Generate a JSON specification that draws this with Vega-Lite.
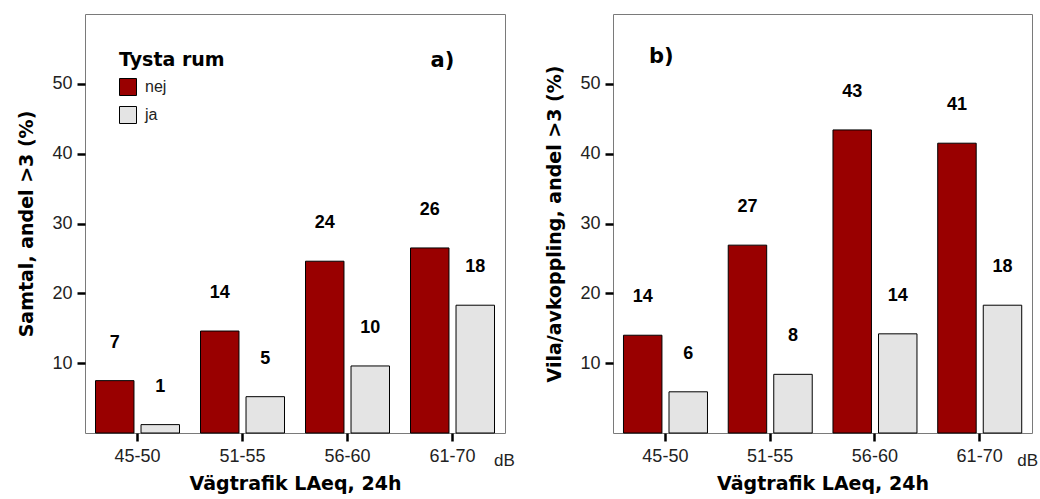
{
  "$schema": "https://vega.github.io/schema/vega-lite/v6.json",
  "background": "white",
  "padding": {"left": 17, "top": 13, "right": 0, "bottom": 0},
  "spacing": 29,
  "config": {
    "view": {"stroke": "#7a7a7a", "strokeWidth": 1},
    "font": "Liberation Sans",
    "axis": {
      "labelFont": "Liberation Sans", "labelFontSize": 18, "labelColor": "#222",
      "tickColor": "black", "tickWidth": 2.5, "tickSize": 8, "domain": false, "grid": false,
      "titleFont": "DejaVu Sans", "titleFontSize": 19, "titleFontWeight": "bold", "titleColor": "black"
    }
  },
  "datasets": {
    "bars": [
      {"panel": "a", "cat": "45-50", "room": "nej", "value": 7.5, "label": "7"},
      {"panel": "a", "cat": "45-50", "room": "ja", "value": 1.2, "label": "1"},
      {"panel": "a", "cat": "51-55", "room": "nej", "value": 14.6, "label": "14"},
      {"panel": "a", "cat": "51-55", "room": "ja", "value": 5.2, "label": "5"},
      {"panel": "a", "cat": "56-60", "room": "nej", "value": 24.6, "label": "24"},
      {"panel": "a", "cat": "56-60", "room": "ja", "value": 9.6, "label": "10"},
      {"panel": "a", "cat": "61-70", "room": "nej", "value": 26.5, "label": "26"},
      {"panel": "a", "cat": "61-70", "room": "ja", "value": 18.3, "label": "18"},
      {"panel": "b", "cat": "45-50", "room": "nej", "value": 14.0, "label": "14"},
      {"panel": "b", "cat": "45-50", "room": "ja", "value": 5.9, "label": "6"},
      {"panel": "b", "cat": "51-55", "room": "nej", "value": 26.9, "label": "27"},
      {"panel": "b", "cat": "51-55", "room": "ja", "value": 8.4, "label": "8"},
      {"panel": "b", "cat": "56-60", "room": "nej", "value": 43.4, "label": "43"},
      {"panel": "b", "cat": "56-60", "room": "ja", "value": 14.2, "label": "14"},
      {"panel": "b", "cat": "61-70", "room": "nej", "value": 41.5, "label": "41"},
      {"panel": "b", "cat": "61-70", "room": "ja", "value": 18.3, "label": "18"}
    ],
    "notes": [
      {"panel": "a", "kind": "tag", "cat": "61-70", "value": 53.3, "text": "a)"},
      {"panel": "a", "kind": "unit", "cat": "61-70", "value": 0, "text": "dB"},
      {"panel": "b", "kind": "tag", "cat": "45-50", "value": 53.9, "text": "b)"},
      {"panel": "b", "kind": "unit", "cat": "61-70", "value": 0, "text": "dB"}
    ]
  },
  "resolve": {"legend": {"color": "independent"}},
  "hconcat": [
    {
      "width": 420,
      "height": 419,
      "encoding": {
        "x": {"field": "cat", "type": "nominal", "title": "Vägtrafik LAeq, 24h",
          "scale": {"domain": ["45-50", "51-55", "56-60", "61-70"], "paddingInner": 0.2, "paddingOuter": 0.1},
          "axis": {"labelAngle": 0, "labelPadding": 6, "titlePadding": 9}},
        "y": {"field": "value", "type": "quantitative", "title": "Samtal, andel >3 (%)",
          "scale": {"domain": [0, 60], "nice": false},
          "axis": {"values": [10, 20, 30, 40, 50], "labelPadding": 5, "titlePadding": 15}}
      },
      "layer": [
        {
          "data": {"name": "bars"},
          "transform": [{"filter": "datum.panel == 'a'"}],
          "mark": {"type": "bar", "stroke": "black", "strokeWidth": 1},
          "encoding": {
            "xOffset": {"field": "room", "type": "nominal", "scale": {"domain": ["nej", "ja"], "paddingInner": 0.155}},
            "color": {"field": "room", "type": "nominal",
              "scale": {"domain": ["nej", "ja"], "range": ["#990000", "#e4e4e4"]},
              "legend": {"orient": "none", "legendX": 34, "legendY": 37, "padding": 0,
                "title": "Tysta rum", "titleFont": "DejaVu Sans", "titleFontSize": 19, "titleFontWeight": "bold", "titleColor": "black", "titlePadding": 8,
                "symbolType": "square", "symbolSize": 289, "symbolStrokeColor": "black", "symbolStrokeWidth": 1, "symbolOpacity": 1,
                "labelFont": "Liberation Sans", "labelFontSize": 16, "labelColor": "#222", "labelOffset": 8, "rowPadding": 6}}
          }
        },
        {
          "data": {"name": "bars"},
          "transform": [{"filter": "datum.panel == 'a'"}],
          "mark": {"type": "text", "dy": -38, "baseline": "middle", "align": "center", "font": "Liberation Sans", "fontSize": 18, "fontWeight": "bold", "color": "black"},
          "encoding": {
            "xOffset": {"field": "room", "type": "nominal", "scale": {"domain": ["nej", "ja"], "paddingInner": 0.155}},
            "text": {"field": "label"}
          }
        },
        {
          "data": {"name": "notes"},
          "transform": [{"filter": "datum.panel == 'a' && datum.kind == 'tag'"}],
          "mark": {"type": "text", "dx": -10, "baseline": "middle", "align": "center", "font": "DejaVu Sans", "fontSize": 21, "fontWeight": "bold", "color": "black"},
          "encoding": {"text": {"field": "text"}}
        },
        {
          "data": {"name": "notes"},
          "transform": [{"filter": "datum.panel == 'a' && datum.kind == 'unit'"}],
          "mark": {"type": "text", "dx": 52, "dy": 28, "baseline": "middle", "align": "center", "font": "Liberation Sans", "fontSize": 17, "color": "#222", "clip": false},
          "encoding": {"text": {"field": "text"}}
        }
      ]
    },
    {
      "width": 419,
      "height": 419,
      "encoding": {
        "x": {"field": "cat", "type": "nominal", "title": "Vägtrafik LAeq, 24h",
          "scale": {"domain": ["45-50", "51-55", "56-60", "61-70"], "paddingInner": 0.2, "paddingOuter": 0.1},
          "axis": {"labelAngle": 0, "labelPadding": 6, "titlePadding": 9}},
        "y": {"field": "value", "type": "quantitative", "title": "Vila/avkoppling, andel >3 (%)",
          "scale": {"domain": [0, 60], "nice": false},
          "axis": {"values": [10, 20, 30, 40, 50], "labelPadding": 5, "titlePadding": 15}}
      },
      "layer": [
        {
          "data": {"name": "bars"},
          "transform": [{"filter": "datum.panel == 'b'"}],
          "mark": {"type": "bar", "stroke": "black", "strokeWidth": 1},
          "encoding": {
            "xOffset": {"field": "room", "type": "nominal", "scale": {"domain": ["nej", "ja"], "paddingInner": 0.155}},
            "color": {"field": "room", "type": "nominal",
              "scale": {"domain": ["nej", "ja"], "range": ["#990000", "#e4e4e4"]},
              "legend": null}
          }
        },
        {
          "data": {"name": "bars"},
          "transform": [{"filter": "datum.panel == 'b'"}],
          "mark": {"type": "text", "dy": -38, "baseline": "middle", "align": "center", "font": "Liberation Sans", "fontSize": 18, "fontWeight": "bold", "color": "black"},
          "encoding": {
            "xOffset": {"field": "room", "type": "nominal", "scale": {"domain": ["nej", "ja"], "paddingInner": 0.155}},
            "text": {"field": "label"}
          }
        },
        {
          "data": {"name": "notes"},
          "transform": [{"filter": "datum.panel == 'b' && datum.kind == 'tag'"}],
          "mark": {"type": "text", "dx": -4, "baseline": "middle", "align": "center", "font": "DejaVu Sans", "fontSize": 21, "fontWeight": "bold", "color": "black"},
          "encoding": {"text": {"field": "text"}}
        },
        {
          "data": {"name": "notes"},
          "transform": [{"filter": "datum.panel == 'b' && datum.kind == 'unit'"}],
          "mark": {"type": "text", "dx": 48, "dy": 28, "baseline": "middle", "align": "center", "font": "Liberation Sans", "fontSize": 17, "color": "#222", "clip": false},
          "encoding": {"text": {"field": "text"}}
        }
      ]
    }
  ]
}
